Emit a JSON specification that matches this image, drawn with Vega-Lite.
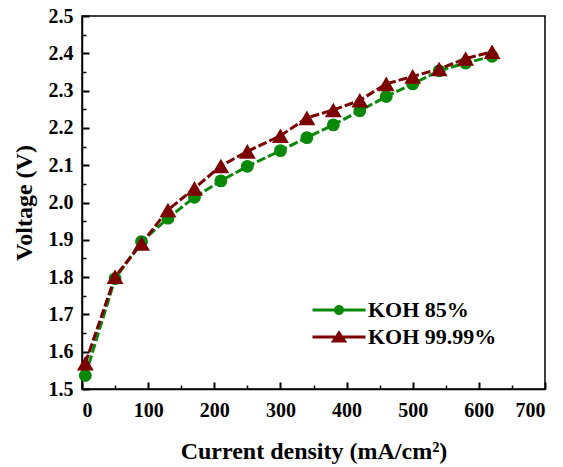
{
  "$schema": "https://vega.github.io/schema/vega-lite/v6.json",
  "width": 463,
  "height": 373,
  "autosize": {"type": "none"},
  "padding": {"left": 82, "top": 16, "right": 18, "bottom": 78},
  "background": "white",
  "data": {
    "values": [
      {"x": 5, "v": 1.536, "series": "KOH 85%"},
      {"x": 50, "v": 1.796, "series": "KOH 85%"},
      {"x": 90, "v": 1.895, "series": "KOH 85%"},
      {"x": 130, "v": 1.958, "series": "KOH 85%"},
      {"x": 170, "v": 2.014, "series": "KOH 85%"},
      {"x": 210, "v": 2.058, "series": "KOH 85%"},
      {"x": 250, "v": 2.097, "series": "KOH 85%"},
      {"x": 300, "v": 2.139, "series": "KOH 85%"},
      {"x": 340, "v": 2.174, "series": "KOH 85%"},
      {"x": 380, "v": 2.208, "series": "KOH 85%"},
      {"x": 420, "v": 2.246, "series": "KOH 85%"},
      {"x": 460, "v": 2.284, "series": "KOH 85%"},
      {"x": 500, "v": 2.318, "series": "KOH 85%"},
      {"x": 540, "v": 2.353, "series": "KOH 85%"},
      {"x": 580, "v": 2.374, "series": "KOH 85%"},
      {"x": 620, "v": 2.392, "series": "KOH 85%"},
      {"x": 5, "v": 1.569, "series": "KOH 99.99%"},
      {"x": 50, "v": 1.801, "series": "KOH 99.99%"},
      {"x": 90, "v": 1.89, "series": "KOH 99.99%"},
      {"x": 130, "v": 1.98, "series": "KOH 99.99%"},
      {"x": 170, "v": 2.038, "series": "KOH 99.99%"},
      {"x": 210, "v": 2.098, "series": "KOH 99.99%"},
      {"x": 250, "v": 2.137, "series": "KOH 99.99%"},
      {"x": 300, "v": 2.179, "series": "KOH 99.99%"},
      {"x": 340, "v": 2.227, "series": "KOH 99.99%"},
      {"x": 380, "v": 2.248, "series": "KOH 99.99%"},
      {"x": 420, "v": 2.274, "series": "KOH 99.99%"},
      {"x": 460, "v": 2.318, "series": "KOH 99.99%"},
      {"x": 500, "v": 2.338, "series": "KOH 99.99%"},
      {"x": 540, "v": 2.358, "series": "KOH 99.99%"},
      {"x": 580, "v": 2.386, "series": "KOH 99.99%"},
      {"x": 620, "v": 2.404, "series": "KOH 99.99%"}
    ]
  },
  "layer": [
    {
      "mark": {"type": "line", "strokeWidth": 3, "strokeDash": [9, 3]},
      "encoding": {
        "x": {
          "field": "x", "type": "quantitative",
          "scale": {"domain": [0, 700], "nice": false, "zero": false},
          "axis": {
            "title": "Current density (mA/cm²)",
            "values": [0, 100, 200, 300, 400, 500, 600, 700],
            "tickSize": -7,
            "tickWidth": 2,
            "labelPadding": 18,
            "titlePadding": 19
          }
        },
        "y": {
          "field": "v", "type": "quantitative",
          "scale": {"domain": [1.5, 2.5], "nice": false, "zero": false},
          "axis": {
            "title": "Voltage (V)",
            "values": [1.5, 1.6, 1.7, 1.8, 1.9, 2.0, 2.1, 2.2, 2.3, 2.4, 2.5],
            "format": ".1f",
            "tickSize": -7,
            "tickWidth": 2,
            "labelPadding": 16,
            "titlePadding": 12
          }
        },
        "color": {"field": "series", "type": "nominal", "scale": {"domain": ["KOH 85%", "KOH 99.99%"], "range": ["#078807", "#7d0000"]}, "legend": null}
      }
    },
    {
      "mark": {"type": "point", "filled": true, "opacity": 1},
      "encoding": {
        "x": {
          "field": "x", "type": "quantitative",
          "scale": {"domain": [0, 700], "nice": false, "zero": false},
          "axis": {"orient": "bottom", "title": null, "labels": false, "domain": false, "values": [50, 150, 250, 350, 450, 550, 650], "tickSize": -4}
        },
        "y": {
          "field": "v", "type": "quantitative",
          "scale": {"domain": [1.5, 2.5], "nice": false, "zero": false},
          "axis": {"orient": "left", "title": null, "labels": false, "domain": false, "values": [1.55, 1.65, 1.75, 1.85, 1.95, 2.05, 2.15, 2.25, 2.35, 2.45], "tickSize": -4}
        },
        "color": {"field": "series", "type": "nominal", "scale": {"domain": ["KOH 85%", "KOH 99.99%"], "range": ["#078807", "#7d0000"]}, "legend": null},
        "shape": {"field": "series", "type": "nominal", "scale": {"domain": ["KOH 85%", "KOH 99.99%"], "range": ["circle", "triangle-up"]}, "legend": null},
        "size": {"field": "series", "type": "nominal", "scale": {"domain": ["KOH 85%", "KOH 99.99%"], "range": [165, 285]}, "legend": null}
      }
    },
    {
      "mark": {"type": "point", "filled": true, "opacity": 0, "size": 100},
      "encoding": {
        "x": {"field": "x", "type": "quantitative", "scale": {"domain": [0, 700], "nice": false, "zero": false}, "axis": null},
        "y": {"field": "v", "type": "quantitative", "scale": {"domain": [1.5, 2.5], "nice": false, "zero": false}, "axis": null},
        "color": {
          "field": "series", "type": "nominal",
          "scale": {"domain": ["KOH 85%", "KOH 99.99%"], "range": ["#078807", "#7d0000"]},
          "legend": {"title": null, "orient": "none", "legendX": 246, "legendY": 283, "symbolOpacity": 1, "labelOffset": 18, "rowPadding": 5, "padding": 0, "labelFont": "Liberation Serif", "labelFontWeight": "bold", "labelFontSize": 22, "labelColor": "black", "symbolStrokeWidth": 0}
        },
        "shape": {
          "field": "series", "type": "nominal",
          "scale": {"domain": ["KOH 85%", "KOH 99.99%"], "range": ["M-5.3,-0.3H-0.8V0.3H-5.3Z M0.8,-0.3H5.3V0.3H0.8Z M1,0A1,1 0 1,1 -1,0A1,1 0 1,1 1,0Z", "M-5.3,-0.3H-0.8V0.3H-5.3Z M0.8,-0.3H5.3V0.3H0.8Z M0,-1.35L1.65,1.1L-1.65,1.1Z"]},
          "legend": {"title": null, "orient": "none", "legendX": 246, "legendY": 283, "symbolOpacity": 1, "labelOffset": 18, "rowPadding": 5, "padding": 0, "labelFont": "Liberation Serif", "labelFontWeight": "bold", "labelFontSize": 22, "labelColor": "black", "symbolStrokeWidth": 0}
        }
      }
    }
  ],
  "resolve": {"scale": {"color": "independent", "shape": "independent", "size": "independent"}, "axis": {"x": "independent", "y": "independent"}, "legend": {"color": "independent", "shape": "independent"}},
  "config": {
    "view": {"stroke": "black", "strokeWidth": 1.5},
    "axis": {
      "grid": false,
      "domainColor": "black",
      "domainWidth": 1.5,
      "tickColor": "black",
      "tickWidth": 1.5,
      "labelFont": "Liberation Serif",
      "labelFontWeight": "bold",
      "labelFontSize": 20,
      "labelColor": "black",
      "titleFont": "Liberation Serif",
      "titleFontWeight": "bold",
      "titleFontSize": 24,
      "titleColor": "black"
    }
  }
}
